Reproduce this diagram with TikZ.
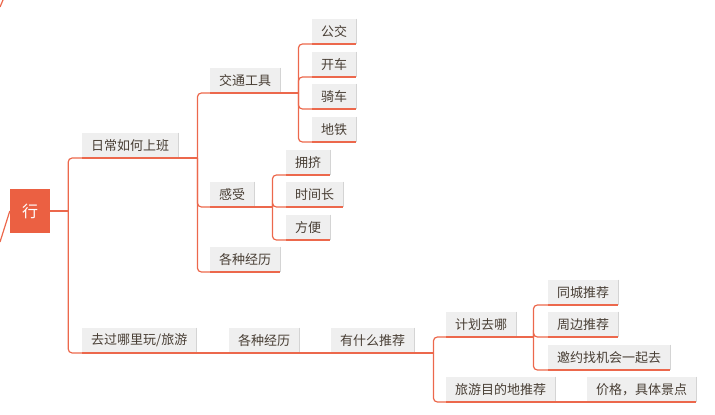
\documentclass[tikz,border=0pt]{standalone}
\usepackage{fontspec}
\newfontfamily\cjk{Noto Sans CJK SC}
\usetikzlibrary{positioning, calc}
\definecolor{mapred}{RGB}{235, 96, 66}
\definecolor{maplink}{RGB}{236, 104, 76}
\definecolor{boxgray}{RGB}{239, 239, 239}
\definecolor{boxedge}{RGB}{212, 212, 212}
\definecolor{maptext}{RGB}{72, 62, 52}

\begin{document}
\begin{tikzpicture}[
  x=1pt, y=-1pt,
  link/.style    = {draw=maplink, line width=1.2pt, rounded corners=4pt},
  topic/.style   = {rectangle, fill=boxgray, text=maptext, anchor=south west,
                    minimum height=25pt, inner xsep=9pt, inner ysep=0pt,
                    font=\cjk\fontsize{13}{15}\selectfont,
                    append after command={
                      (\tikzlastnode.north east) edge[draw=boxedge, line width=0.8pt] (\tikzlastnode.south east)
                      (\tikzlastnode.south west) edge[draw=maplink, line width=1.5pt] (\tikzlastnode.south east)}},
  centre/.style  = {rectangle, fill=mapred, text=white, minimum width=40pt,
                    minimum height=44pt, font=\cjk\fontsize{16}{18}\selectfont}
]
\useasboundingbox (0,0) rectangle (715,415);

\node[centre] (root) at (30,211) {行};

\node[topic] (daily)   at (82,158)  {日常如何上班};
\node[topic] (travel)  at (82,353)  {去过哪里玩/旅游};

\node[topic] (vehicle) at (210,93)  {交通工具};
\node[topic] (feel)    at (210,207) {感受};
\node[topic] (story)   at (210,272) {各种经历};

\node[topic] (bus)     at (312,44)  {公交};
\node[topic] (car)     at (312,77)  {开车};
\node[topic] (bike)    at (312,109) {骑车};
\node[topic] (metro)   at (312,142) {地铁};

\node[topic] (crowd)   at (286,175) {拥挤};
\node[topic] (long)    at (286,207) {时间长};
\node[topic] (easy)    at (286,240) {方便};

\node[topic] (trip)    at (229,353) {各种经历};
\node[topic] (advice)  at (331,353) {有什么推荐};

\node[topic] (plan)    at (446,337) {计划去哪};
\node[topic] (dest)    at (446,402) {旅游目的地推荐};
\node[topic] (price)   at (587,402) {价格，具体景点};

\node[topic] (local)   at (548,305) {同城推荐};
\node[topic] (nearby)  at (548,337) {周边推荐};
\node[topic] (invite)  at (548,370) {邀约找机会一起去};

% stubs of the parent map
\coordinate (upA) at (0,7);
\coordinate (upB) at (3,0);
\coordinate (parentIn) at (0,242);
\draw[link] (upA) -- (upB);
\draw[link] (parentIn) -- (root.west);

% junctions
\coordinate (rootJ)    at ([xshift=18pt]root.east);
\coordinate (dailyJ)   at ([xshift=19pt]daily.south east);
\coordinate (vehicleJ) at ([xshift=18pt]vehicle.south east);
\coordinate (feelJ)    at ([xshift=18pt]feel.south east);
\coordinate (adviceJ)  at ([xshift=19pt]advice.south east);
\coordinate (planJ)    at ([xshift=17pt]plan.south east);

\draw[link] (root.east) -- (rootJ);
\draw[link] (rootJ) |- (daily.south west);
\draw[link] (rootJ) |- (travel.south west);

\draw[link] (daily.south east) -- (dailyJ);
\draw[link] (dailyJ) |- (vehicle.south west);
\draw[link] (dailyJ) |- (feel.south west);
\draw[link] (dailyJ) |- (story.south west);

\draw[link] (vehicle.south east) -- (vehicleJ);
\foreach \n in {bus, car, bike, metro}
  \draw[link] (vehicleJ) |- (\n.south west);

\draw[link] (feel.south east) -- (feelJ);
\foreach \n in {crowd, long, easy}
  \draw[link] (feelJ) |- (\n.south west);

\draw[link] (travel.south east) -- (trip.south west);
\draw[link] (trip.south east) -- (advice.south west);

\draw[link] (advice.south east) -- (adviceJ);
\draw[link] (adviceJ) |- (plan.south west);
\draw[link] (adviceJ) |- (dest.south west);
\draw[link] (dest.south east) -- (price.south west);

\draw[link] (plan.south east) -- (planJ);
\foreach \n in {local, nearby, invite}
  \draw[link] (planJ) |- (\n.south west);

\end{tikzpicture}
\end{document}
